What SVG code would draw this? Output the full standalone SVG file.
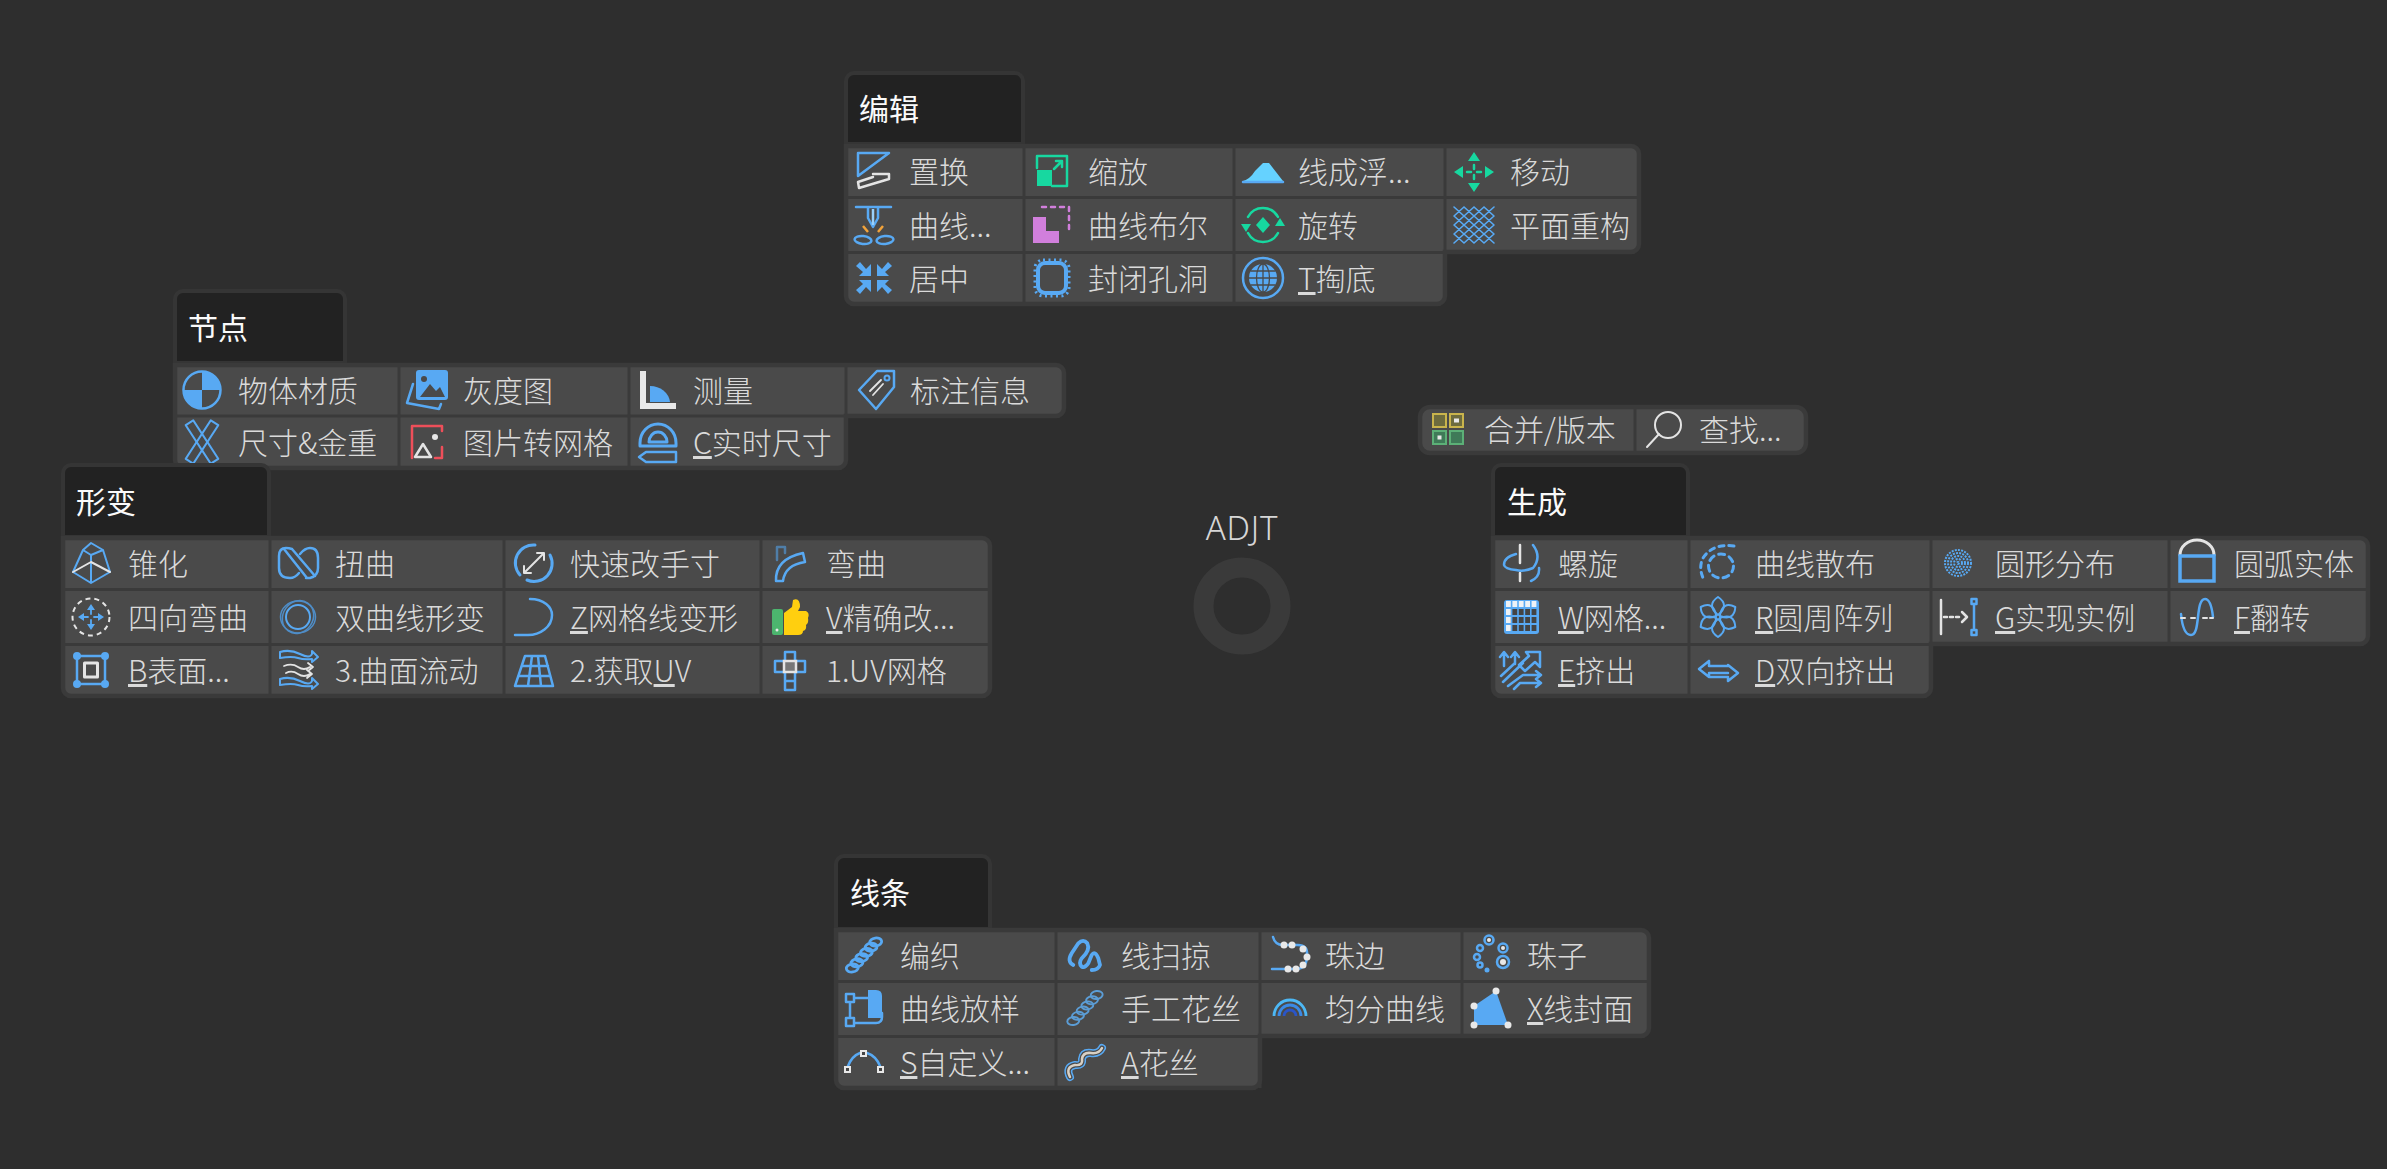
<svg xmlns="http://www.w3.org/2000/svg" width="2387" height="1169" viewBox="0 0 2387 1169">
<style>
text{font-family:"Noto Sans CJK SC","Noto Sans",sans-serif;font-weight:300}
.t{font-size:30px;fill:#dadada}
.h{font-size:30px;fill:#fafafa;font-weight:400}
.u{text-decoration:underline;text-underline-offset:5px}
.pan{fill:#4a4a4a;stroke:#3a3a3a;stroke-width:4.5}
.hd{fill:#222;stroke:#353535;stroke-width:4}
.sep{fill:none;stroke:#3a3a3a;stroke-width:3}
.b,.w,.g,.p,.r,.n{fill:none;stroke-width:2.5;stroke-linecap:round;stroke-linejoin:round}
.b{stroke:#58a9f3}.w{stroke:#e4e4e4}.g{stroke:#17d8a0}.p{stroke:#d17fdc}.r{stroke:#ee4f5a}.n{stroke:#4a4a4a}
.bf{fill:#58a9f3}.wf{fill:#e8e8e8}.gf{fill:#17d8a0}.pf{fill:#d17fdc}.nf{fill:#4a4a4a}
</style>
<defs>
<path id="petal" class="b" style="stroke-width:2" d="M0,-2Q12,-12 0,-20Q-12,-12 0,-2Z"/>
<path id="inarrow" class="bf" d="M-3,-2L-3,-14L-8,-9L-14,-16L-18,-12L-11,-6L-15,-2Z"/>
<g id="rope" fill="none"><ellipse rx="6" ry="4" transform="translate(-17.500,0) rotate(40)"/><ellipse rx="6" ry="4" transform="translate(-10.500,0) rotate(40)"/><ellipse rx="6" ry="4" transform="translate(-3.500,0) rotate(40)"/><ellipse rx="6" ry="4" transform="translate(3.500,0) rotate(40)"/><ellipse rx="6" ry="4" transform="translate(10.500,0) rotate(40)"/><ellipse rx="6" ry="4" transform="translate(17.500,0) rotate(40)"/></g>
<path id="flowband" class="b" style="stroke-width:2" d="M-18,-18Q-8,-21 2,-16T14,-16V-19L20,-13L14,-8V-11Q6,-10 0,-12T-18,-12Z"/>
</defs>
<rect width="2387" height="1169" fill="#2e2e2e"/>

<g id="center-adjt">
<circle cx="1242" cy="606" r="38.500" fill="none" stroke="#3a3a3a" stroke-width="20"/>
<text x="1242" y="540" font-size="33" letter-spacing="0.800" text-anchor="middle" style="font-family:'Noto Sans',sans-serif;fill:#d6d6d6">ADJT</text>
</g>

<g id="panel-edit">
<path class="hd" d="M846,144V81a8,8 0 0 1 8,-8H1015a8,8 0 0 1 8,8V144Z"/>
<text class="h" x="859" y="120">编辑</text>
<path class="pan" d="M846,146H1631a8,8 0 0 1 8,8V244a8,8 0 0 1 -8,8H1445V296a8,8 0 0 1 -8,8H854a8,8 0 0 1 -8,-8Z"/>
<path class="sep" d="M846,197.500H1639M846,252.500H1445M1024,146V304M1234,146V304M1445,146V252"/>
<g id="edit-replace"><g transform="translate(873,172)"><path class="b" d="M-15,4V-19H16L-15,4"/><path class="w" d="M0,2H16V7L-14,16L-15,10L0,5"/></g><text class="t" x="909" y="183">置换</text></g>
<g id="edit-scale"><g transform="translate(1052,171)"><rect class="gf" x="-15" y="-1" width="15" height="16"/><path class="g" d="M-15,-3V-15H15V15H0M2,-2L10,-10M4,-10H10V-4"/></g><text class="t" x="1088" y="183">缩放</text></g>
<g id="edit-relief"><g transform="translate(1263,172)"><path d="M-20,9Q-13,7 -8,-1L0,-9H6L20,9Z" fill="#65d2ff"/><path class="b" d="M-20,10H20"/></g><text class="t" x="1298" y="183">线成浮...</text></g>
<g id="edit-move"><g transform="translate(1474,172)"><path class="gf" d="M0,-20L-6,-11H6ZM0,20L-6,11H6ZM-20,0L-11,-6V6ZM20,0L11,-6V6Z"/><path class="g" d="M0,-7V-3M0,3V7M-7,0H-3M3,0H7"/></g><text class="t" x="1510" y="183">移动</text></g>
<g id="edit-curve"><g transform="translate(874,225)"><path class="b" d="M-18,-18H17M-6,-18V-7L-1,2L4,-7V-18"/><path d="M-1,-16V0" stroke="#9ad0fa" stroke-width="2.500" fill="none"/><path d="M-11,1L-6,7M9,1L4,7" fill="none" stroke="#f2a33a" stroke-width="2.500"/><ellipse class="b" cx="-11" cy="15" rx="8.500" ry="4" transform="rotate(6 -11 15)"/><ellipse class="b" cx="11" cy="15" rx="8.500" ry="4" transform="rotate(-6 11 15)"/></g><text class="t" x="909" y="237">曲线...</text></g>
<g id="edit-boolean"><g transform="translate(1052,225)"><path class="pf" d="M-19,-8H-6V6H7V18H-19Z"/><path class="p" d="M-10,-18H17V8" stroke-dasharray="4 5"/></g><text class="t" x="1088" y="237">曲线布尔</text></g>
<g id="edit-rotate"><g transform="translate(1263,225)"><path class="gf" d="M0,-8L7,0L0,8L-7,0ZM-22,-1H-12L-17,7ZM12,1H22L17,-7Z"/><path class="g" d="M-15,-8A17,17 0 0 1 15,-8M-15,8A17,17 0 0 0 15,8"/></g><text class="t" x="1298" y="237">旋转</text></g>
<g id="edit-remesh"><g transform="translate(1474,225)"><path class="b" style="stroke-width:1.600" d="M-20,-18L-10,-9L-20,0L-10,9L-20,18M-10,-18L-20,-9L-10,0L-20,9L-10,18M-10,-18L0,-9L-10,0L0,9L-10,18M0,-18L-10,-9L0,0L-10,9L0,18M0,-18L10,-9L0,0L10,9L0,18M10,-18L0,-9L10,0L0,9L10,18M10,-18L20,-9L10,0L20,9L10,18M20,-18L10,-9L20,0L10,9L20,18"/></g><text class="t" x="1510" y="237">平面重构</text></g>
<g id="edit-center"><g transform="translate(874,278)"><use href="#inarrow"/><use href="#inarrow" transform="scale(-1,1)"/><use href="#inarrow" transform="scale(1,-1)"/><use href="#inarrow" transform="scale(-1,-1)"/></g><text class="t" x="909" y="290">居中</text></g>
<g id="edit-closehole"><g transform="translate(1052,278)"><rect class="b" x="-14" y="-15" width="28" height="30" rx="7" style="stroke-width:4"/><rect class="b" x="-17" y="-18" width="34" height="36" rx="8" stroke-dasharray="2 3.500" style="stroke-width:3;stroke-linecap:butt"/></g><text class="t" x="1088" y="290">封闭孔洞</text></g>
<g id="edit-hollow"><g transform="translate(1263,278)"><circle class="b" r="20"/><circle class="bf" r="14"/><path class="n" style="stroke-width:1.300" d="M-14,0H14M0,-14V14M-12,-7H12M-12,7H12"/><ellipse class="n" style="stroke-width:1.300" rx="6.500" ry="14"/></g><text class="t" x="1298" y="290"><tspan class="u">T</tspan>掏底</text></g>
</g>

<g id="panel-node">
<path class="hd" d="M175,363V299a8,8 0 0 1 8,-8H337a8,8 0 0 1 8,8V363Z"/>
<text class="h" x="188" y="339">节点</text>
<path class="pan" d="M175,365H1056a8,8 0 0 1 8,8V408a8,8 0 0 1 -8,8H846V460a8,8 0 0 1 -8,8H183a8,8 0 0 1 -8,-8Z"/>
<path class="sep" d="M175,416H846M399,365V468M629,365V468M846,365V416"/>
<g id="node-material"><g transform="translate(202,390)"><circle class="b" r="18.500"/><path class="bf" d="M0,-19A19,19 0 0 1 19,0H0ZM0,0H-19A19,19 0 0 0 0,19Z"/></g><text class="t" x="238" y="402">物体材质</text></g>
<g id="node-gray"><g transform="translate(427,390)"><path class="b" d="M-14,-6L-20,13L12,19L14,14"/><rect class="bf" x="-11" y="-20" width="32" height="30" rx="3"/><path class="nf" d="M-7,7L3,-6L9,1L13,-3L18,7Z"/><circle class="nf" cx="-3" cy="-11" r="3"/></g><text class="t" x="463" y="402">灰度图</text></g>
<g id="node-measure"><g transform="translate(658,390)"><path class="bf" d="M-8,-4A20,18 0 0 1 12,12H-8Z"/><path class="wf" d="M-18,-19H-12V13H18V19H-18Z"/></g><text class="t" x="693" y="402">测量</text></g>
<g id="node-tag"><g transform="translate(876,390)"><path class="b" d="M-17,0L1,-19H18V-3L0,19Z"/><circle class="b" cx="11" cy="-12" r="2.500" style="stroke-width:2"/><path class="w" style="stroke-width:1.800" d="M-6,1L5,-10M-3,5L7,-6"/></g><text class="t" x="910" y="402">标注信息</text></g>
<g id="node-size"><g transform="translate(202,442)"><rect class="b" x="-4.500" y="-23" width="9" height="46" transform="rotate(-33)" style="stroke-width:2"/><rect class="b" x="-4.500" y="-23" width="9" height="46" transform="rotate(33)" style="stroke-width:2"/></g><text class="t" x="238" y="454">尺寸&amp;金重</text></g>
<g id="node-imgmesh"><g transform="translate(427,442)"><path class="r" d="M-15,16V-16H15V-11M15,5V16H8"/><path class="w" d="M-4,2L-12,15H4Z"/><circle class="wf" cx="8" cy="-5" r="3"/></g><text class="t" x="463" y="454">图片转网格</text></g>
<g id="node-live"><g transform="translate(658,442)"><path class="b" d="M-18,4V1A18,19 0 0 1 18,1V4ZM-9,0A9,10 0 0 1 9,0Z" style="stroke-width:3"/><path class="b" d="M-19,15L-12,10H18V20H-12Z"/></g><text class="t" x="693" y="454"><tspan class="u">C</tspan>实时尺寸</text></g>
</g>

<g id="panel-deform">
<path class="hd" d="M63,537V473a8,8 0 0 1 8,-8H261a8,8 0 0 1 8,8V537Z"/>
<text class="h" x="76" y="513">形变</text>
<path class="pan" d="M63,538H982a8,8 0 0 1 8,8V688a8,8 0 0 1 -8,8H71a8,8 0 0 1 -8,-8Z"/>
<path class="sep" d="M63,589.500H990M63,644.500H990M270,538V696M504,538V696M761,538V696"/>
<g id="deform-taper"><g transform="translate(91,563)"><path class="b" style="stroke-width:2" d="M0,-20L12,-13L19,9L0,20L-18,9L-8,-13ZM-8,-13L0,-8L12,-13M0,-8V20"/><path class="w" style="stroke-width:2" d="M-18,9L0,-1L19,9"/></g><text class="t" x="128" y="575">锥化</text></g>
<g id="deform-twist"><g transform="translate(298,563)"><path class="b" d="M-6,-14Q-9,-15 -12,-15Q-19,-15 -19,-7V5Q-19,15 -8,15Q-3,15 1,10M2,-9Q7,-15 12,-15Q20,-15 20,-5V5Q20,13 12,15H8M-14,-14L9,15M-6,-14L17,13"/></g><text class="t" x="335" y="575">扭曲</text></g>
<g id="deform-resize"><g transform="translate(534,563)"><path class="b" style="stroke-width:3" d="M1,-18A18,18 0 0 0 -14,12M-7,17A18,18 0 0 0 16,-8"/><path class="w" style="stroke-width:2" d="M-10,10L10,-10M-10,3V10H-3M3,-10H10V-3"/></g><text class="t" x="570" y="575">快速改手寸</text></g>
<g id="deform-bend"><g transform="translate(790,563)"><path class="b" d="M-14,18Q-15,-4 13,-10L15,-1Q-5,2 -7,18Z"/><path class="b" style="stroke:#4f7ea8" d="M-13,-3V-16H-5V-10"/></g><text class="t" x="826" y="575">弯曲</text></g>
<g id="deform-four"><g transform="translate(91,617)"><circle class="w" r="18.500" stroke-dasharray="5 4" style="stroke-width:2;stroke-linecap:butt"/><path class="bf" d="M0,-13L-4,-7H4ZM0,13L-4,7H4ZM-13,0L-7,-4V4ZM13,0L7,-4V4Z"/><path class="b" style="stroke-width:1.800" d="M0,-7V-3M0,3V7M-7,0H-3M3,0H7"/></g><text class="t" x="128" y="629">四向弯曲</text></g>
<g id="deform-hyper"><g transform="translate(298,617)"><ellipse class="b" rx="17.500" ry="16" style="stroke-width:1.500;stroke:#4f8dc7"/><ellipse class="b" rx="15" ry="17" transform="rotate(35)" style="stroke-width:1.500;stroke:#4f8dc7"/><circle class="b" r="12" style="stroke-width:2"/></g><text class="t" x="335" y="629">双曲线形变</text></g>
<g id="deform-grid"><g transform="translate(534,617)"><path class="b" d="M-4,-18C10,-18 18,-10 18,-2C18,10 6,18 -6,18H-19"/></g><text class="t" x="570" y="629"><tspan class="u">Z</tspan>网格线变形</text></g>
<g id="deform-precise"><g transform="translate(790,617)"><rect x="-18" y="-8" width="11" height="26" rx="2" fill="#4cb56e"/><path fill="#ffcf0f" d="M-6,-4L2,-10L3,-17Q10,-20 10,-10L8,-6H16Q20,-4 18,1Q19,6 16,8Q17,13 13,14Q13,18 8,18H-6Z"/><circle class="wf" cx="-13" cy="13" r="1.500"/></g><text class="t" x="826" y="629"><tspan class="u">V</tspan>精确改...</text></g>
<g id="deform-surface"><g transform="translate(91,670)"><rect class="b" x="-14" y="-14" width="28" height="28" style="stroke-width:2.500"/><circle class="bf" cx="-14" cy="-14" r="4"/><circle class="bf" cx="14" cy="-14" r="4"/><circle class="bf" cx="-14" cy="14" r="4"/><circle class="bf" cx="14" cy="14" r="4"/><rect class="w" x="-6.500" y="-7" width="13" height="14" style="stroke-width:3"/></g><text class="t" x="128" y="682"><tspan class="u">B</tspan>表面...</text></g>
<g id="deform-flow"><g transform="translate(298,670)"><use href="#flowband"/><use href="#flowband" y="27"/><path class="w" style="stroke-width:1.800" d="M-14,-4Q-6,-7 0,-3T12,-3M10,-7L15,-3L10,1M-12,3Q-6,0 0,4T12,4M9,0L14,4L9,8"/></g><text class="t" x="335" y="682">3.曲面流动</text></g>
<g id="deform-uv"><g transform="translate(534,670)"><path class="b" d="M-9,-14H11L19,16H-19ZM-12,-4H14M-15,6H16M-2,-14L-6,16M4,-14L7,16"/></g><text class="t" x="570" y="682">2.获取<tspan class="u">U</tspan>V</text></g>
<g id="deform-uvgrid"><g transform="translate(790,670)"><path class="b" d="M-5,-18H5V-9H15V2H5V20H-5V2H-15V-9H-5ZM-5,11H5"/><rect x="-6" y="-9" width="12" height="11" fill="#777" stroke="#e4e4e4" stroke-width="2.500"/></g><text class="t" x="826" y="682">1.UV网格</text></g>
</g>

<g id="panel-generate">
<path class="hd" d="M1493,537V473a8,8 0 0 1 8,-8H1680a8,8 0 0 1 8,8V537Z"/>
<text class="h" x="1507" y="513">生成</text>
<path class="pan" d="M1493,538H2360a8,8 0 0 1 8,8V636a8,8 0 0 1 -8,8H1931V688a8,8 0 0 1 -8,8H1501a8,8 0 0 1 -8,-8Z"/>
<path class="sep" d="M1493,589.500H2368M1493,644.500H1931M1689,538V696M1931,538V644M2169,538V644"/>
<g id="gen-helix"><g transform="translate(1520,563)"><path class="w" d="M0,-18V0M0,10V18"/><path class="b" d="M13,-18Q22,-6 13,5Q4,9 -4,7Q-15,6 -16,2Q-16,-6 -4,-9M19,5Q20,14 11,18"/></g><text class="t" x="1558" y="575">螺旋</text></g>
<g id="gen-scatter"><g transform="translate(1718,563)"><path class="b" d="M16,-17Q-5,-20 -15,-5Q-20,5 -14,17" stroke-dasharray="5 5" style="stroke-width:3"/><ellipse class="b" cx="3" cy="3" rx="12.500" ry="12" stroke-dasharray="6 5" style="stroke-width:3"/></g><text class="t" x="1755" y="575">曲线散布</text></g>
<g id="gen-circular"><g transform="translate(1958,563)" fill="none" stroke="#58a9f3" stroke-width="2" stroke-dasharray="2 1.200"><circle r="13"/><circle r="10"/><circle r="7"/><circle r="4"/><circle r="1"/></g><text class="t" x="1995" y="575">圆形分布</text></g>
<g id="gen-arc"><g transform="translate(2197,563)"><path class="w" style="stroke-width:3" d="M-17,-8A17,15 0 0 1 17,-8"/><rect class="b" x="-17" y="-7" width="34" height="25" style="stroke-width:3.500;stroke-linejoin:miter"/></g><text class="t" x="2234" y="575">圆弧实体</text></g>
<g id="gen-wgrid"><g transform="translate(1520,617)"><rect class="bf" x="-16" y="-17" width="35" height="34" rx="3"/><path d="M-14,-5H18M-14,3H18M-14,11H18" fill="none" stroke="#444" stroke-width="6" stroke-dasharray="4.800 1.600"/><path d="M-14,-13H18" fill="none" stroke="#eef2f6" stroke-width="6" stroke-dasharray="4.800 1.600"/><path d="M-14,-5H-9.200M-14,3H-9.200M-14,11H-9.200" fill="none" stroke="#eef2f6" stroke-width="6"/></g><text class="t" x="1558" y="629"><tspan class="u">W</tspan>网格...</text></g>
<g id="gen-polar"><g transform="translate(1718,617)"><use href="#petal"/><use href="#petal" transform="rotate(60)"/><use href="#petal" transform="rotate(120)"/><use href="#petal" transform="rotate(180)"/><use href="#petal" transform="rotate(240)"/><use href="#petal" transform="rotate(300)"/></g><text class="t" x="1755" y="629"><tspan class="u">R</tspan>圆周阵列</text></g>
<g id="gen-instance"><g transform="translate(1958,617)"><path class="w" d="M-17,-17V17"/><path class="w" d="M-14,0H1" stroke-dasharray="3 3"/><path class="w" d="M4,-5L9,0L4,5"/><path class="b" d="M16,-13V13"/><rect class="b" x="13.500" y="-18" width="5" height="5"/><rect class="b" x="13.500" y="13" width="5" height="5"/></g><text class="t" x="1995" y="629"><tspan class="u">G</tspan>实现实例</text></g>
<g id="gen-flip"><g transform="translate(2197,617)"><path class="b" d="M-16,-3Q-14,18 -6,18C4,18 -2,-18 8,-18Q14,-18 16,0"/><path class="w" style="stroke-width:2" d="M-16,1H-12M-6,1H-2M6,1H10M13,1H16"/></g><text class="t" x="2234" y="629"><tspan class="u">F</tspan>翻转</text></g>
<g id="gen-extrude"><g transform="translate(1520,670)"><path class="b" d="M-16,-4V-17M-20,-13L-16,-18L-12,-13M-5,-6V-17M-9,-13L-5,-18L-1,-13M-19,6L-5,-7M-17,12L3,-7M6,-18H20V-3L15,-8L5,1L-1,-5L9,-14ZM-12,16L3,5H20M16,1L21,5L16,9M-6,19L0,13H20M16,9L21,13L16,17"/></g><text class="t" x="1558" y="682"><tspan class="u">E</tspan>挤出</text></g>
<g id="gen-bi"><g transform="translate(1718,670)"><path class="b" d="M-9,-9L-19,-1L-9,7V3H10M-9,-9V-4H10V-5L20,3L10,11V7H-9"/></g><text class="t" x="1755" y="682"><tspan class="u">D</tspan>双向挤出</text></g>
</g>

<g id="panel-lines">
<path class="hd" d="M836,929V864a8,8 0 0 1 8,-8H982a8,8 0 0 1 8,8V929Z"/>
<text class="h" x="850" y="904">线条</text>
<path class="pan" d="M836,930H1641a8,8 0 0 1 8,8V1028a8,8 0 0 1 -8,8H1260V1080a8,8 0 0 1 -8,8H844a8,8 0 0 1 -8,-8Z"/>
<path class="sep" d="M836,981.500H1649M836,1036.500H1260M1056,930V1088M1260,930V1088M1462,930V1036"/>
<g id="line-braid"><use href="#rope" transform="translate(864,955) rotate(-48)" stroke="#58a9f3" stroke-width="2.800"/><text class="t" x="900" y="967">编织</text></g>
<g id="line-sweep"><g transform="translate(1085,955)"><path class="b" style="stroke-width:3.800" d="M-11.700,10Q-18.300,6.700 -13.300,-1.700L-6.700,-11.700Q-1.700,-16.700 2.300,-11.700Q5.700,-5 -3.300,3.300Q-6.700,8.300 -3.300,11.700Q0,13.300 3.300,8.300L6.700,0Q10,-5 13.300,3.300L15,10Q13.300,15 6.700,15"/></g><text class="t" x="1121" y="967">线扫掠</text></g>
<g id="line-beadedge"><g transform="translate(1290,955)"><path class="b" d="M-17,-18Q-15,-10 -7,-10H8Q18,-10 17,0Q17,14 6,14H-18"/><g class="wf"><circle cx="-6" cy="-10" r="3.500"/><circle cx="2" cy="-10" r="3.500"/><circle cx="13" cy="-6" r="3.500"/><circle cx="17" cy="2" r="3.500"/><circle cx="13" cy="10" r="3.500"/><circle cx="6" cy="14" r="3.500"/><circle cx="-2" cy="14" r="3.500"/></g></g><text class="t" x="1325" y="967">珠边</text></g>
<g id="line-beads"><g transform="translate(1492,955)"><g class="b"><circle cx="-3" cy="-15" r="4.500"/><circle cx="11" cy="-7" r="4.500"/><circle cx="11" cy="7" r="6"/><circle cx="-12" cy="-7" r="3"/><circle cx="-15" cy="2" r="3"/><circle cx="-12" cy="10" r="2.500"/></g><circle class="bf" cx="-5" cy="15" r="2.500"/><g class="wf"><circle cx="-3" cy="-15" r="2"/><circle cx="11" cy="-7" r="2"/><circle cx="11" cy="7" r="3"/></g></g><text class="t" x="1527" y="967">珠子</text></g>
<g id="line-loft"><g transform="translate(864,1008)"><path class="bf" d="M4,-18H12Q18,-18 18,-12V10H4Z"/><path class="b" d="M-9,-10H4M-14,-5V9M-9,15H12Q18,15 18,9V5"/><rect class="b" x="-18" y="-14" width="8" height="8"/><rect class="b" x="-18" y="10" width="8" height="8"/></g><text class="t" x="900" y="1020">曲线放样</text></g>
<g id="line-handcraft"><use href="#rope" transform="translate(1085,1008) rotate(-48)" stroke="#5b9dd6" stroke-width="1.900"/><text class="t" x="1121" y="1020">手工花丝</text></g>
<g id="line-even"><g transform="translate(1290,1008)" fill="none" stroke-width="2.800"><path stroke="#4db8f5" d="M-16,8A16,16 0 0 1 16,8"/><path stroke="#3b8ae6" d="M-11,8A11,11 0 0 1 11,8"/><path stroke="#2a55c8" d="M-6,8A6,6 0 0 1 6,8"/></g><text class="t" x="1325" y="1020">均分曲线</text></g>
<g id="line-xpatch"><g transform="translate(1492,1008)"><path class="bf" d="M4,-17L-18,-2V17H16Z"/><g class="wf"><circle cx="4" cy="-17" r="3.500"/><circle cx="-18" cy="-2" r="3.500"/><circle cx="-18" cy="17" r="3.500"/><circle cx="16" cy="17" r="3.500"/></g></g><text class="t" x="1527" y="1020"><tspan class="u">X</tspan>线封面</text></g>
<g id="line-custom"><g transform="translate(864,1062)"><path class="b" d="M-16,4Q-12,-6 -4,-9M3,-9Q12,-6 16,4"/><g class="wf"><rect x="-20" y="4" width="7" height="7"/><rect x="-4" y="-12" width="7" height="7"/><rect x="13" y="4" width="7" height="7"/></g><path fill="#444" d="M-18,6h3v3h-3ZM-2,-10h3v3h-3ZM15,6h3v3h-3Z"/></g><text class="t" x="900" y="1074"><tspan class="u">S</tspan>自定义...</text></g>
<g id="line-filigree"><g transform="translate(1085,1062)" fill="none" stroke-linecap="round"><path d="M-15,15Q-20,5 -10,3Q-2,4 -3,-3Q-2,-10 6,-9Q14,-8 17,-14" stroke="#58a9f3" stroke-width="8"/><path d="M-15,15Q-20,5 -10,3Q-2,4 -3,-3Q-2,-10 6,-9Q14,-8 17,-14" stroke="#4a4a4a" stroke-width="5"/><path d="M-15,15Q-20,5 -10,3Q-2,4 -3,-3Q-2,-10 6,-9Q14,-8 17,-14" stroke="#d8d0c4" stroke-width="2.500"/></g><text class="t" x="1121" y="1074"><tspan class="u">A</tspan>花丝</text></g>
</g>

<g id="panel-topbar">
<rect class="pan" x="1420" y="407" width="386" height="46" rx="10"/>
<path class="sep" d="M1635,407V453"/>
<g id="top-merge"><g transform="translate(1448,429)"><g fill="#6d6b3e" stroke="#c9b44c" stroke-width="2"><rect x="-15" y="-15" width="13" height="13"/><rect x="2" y="-15" width="13" height="13"/></g><g fill="#3f7a58" stroke="#5cb077" stroke-width="2"><rect x="-15" y="2" width="13" height="13"/><rect x="2" y="2" width="13" height="13"/></g><rect class="wf" x="6" y="-10.500" width="5" height="4"/><rect class="wf" x="-10.500" y="6.500" width="4" height="4"/></g><text class="t" x="1484" y="441">合并/版本</text></g>
<g id="top-find"><g transform="translate(1663,429)"><circle class="w" cx="5" cy="-4" r="13" style="stroke-width:2"/><path class="w" style="stroke-width:2" d="M-4,5L-16,18"/></g><text class="t" x="1699" y="441">查找...</text></g>
</g>
</svg>
